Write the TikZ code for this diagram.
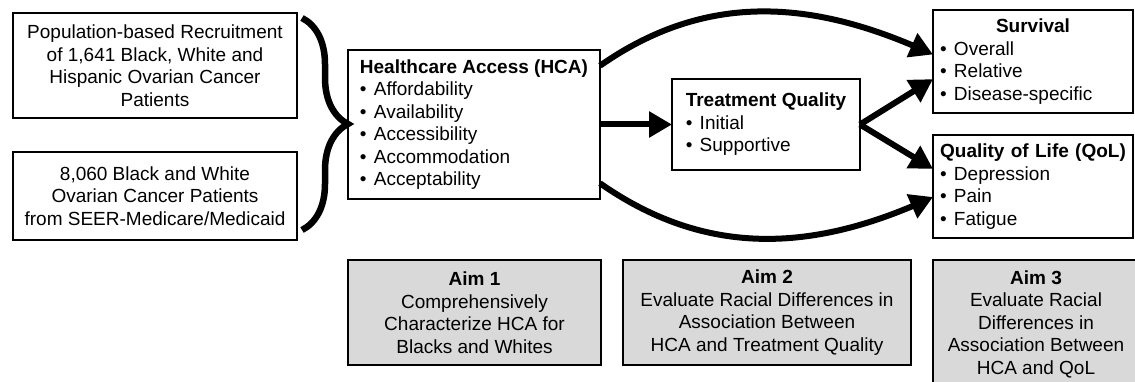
\documentclass[tikz,border=0pt]{standalone}
\usepackage{fontspec}
\setmainfont{Liberation Sans}
\usetikzlibrary{arrows.meta, bending, decorations.pathreplacing, positioning}
\newcommand\bul{\makebox[14pt][l]{•}}

\begin{document}
\begin{tikzpicture}[
x=1pt, y=1pt,
every node/.style = {font=\fontsize{19}{22.5}\selectfont},
   box/.style = {draw, line width=1.8pt, inner sep=0pt, outer sep=0pt,
                 align=center, anchor=north west},
  lbox/.style = {box, align=left},
  obox/.style = {box, align=left, inner xsep=7pt, text width=186pt},
   aim/.style = {box, fill=gray!30, line width=2.6pt, minimum height=105pt},
   arr/.style = {line width=6pt, -{Triangle[length=23pt,width=25pt]}},
   brc/.style = {line width=6.5pt, decorate,
                 decoration={brace, amplitude=46pt}}
                        ]
\useasboundingbox (0,0) rectangle (1135,-382);
\clip (0,0) rectangle (1135,-382);
    % cohorts
\node (pop)  [box, minimum width=284pt, minimum height=105pt] at (13,-13)
    {Population-based Recruitment\\ of 1,641 Black, White and\\
     Hispanic Ovarian Cancer\\ Patients};
\node (seer) [box, minimum width=284pt, minimum height=88pt] at (13,-152)
    {8,060 Black and White\\ Ovarian Cancer Patients\\
     from SEER-Medicare/Medicaid};
    % model
\node (hca)  [lbox, minimum width=252pt, minimum height=149pt] at (348,-50)
    {\textbf{Healthcare Access (HCA)}\\ \bul Affordability\\ \bul Availability\\
     \bul Accessibility\\ \bul Accommodation\\ \bul Acceptability};
\node (tq)   [lbox, minimum width=188pt, minimum height=91pt] at (672,-79)
    {\textbf{Treatment Quality}\\ \bul Initial\\ \bul Supportive};
\node (surv) [obox, minimum height=103pt] at (933,-10)
    {\makebox[186pt]{\textbf{Survival}}\\ \bul Overall\\ \bul Relative\\
     \bul Disease-specific};
\node (qol)  [obox, minimum height=103pt] at (933,-135)
    {\makebox[186pt]{\textbf{Quality of Life (QoL)}}\\ \bul Depression\\
     \bul Pain\\ \bul Fatigue};
    % aims
\node (aim1) [aim, minimum width=253pt] at (348,-260)
    {\textbf{Aim 1}\\ Comprehensively\\ Characterize HCA for\\
     Blacks and Whites};
\node (aim2) [aim, minimum width=288pt] at (623,-260)
    {\textbf{Aim 2}\\ Evaluate Racial Differences in\\
     Association Between\\ HCA and Treatment Quality};
\node (aim3) [aim, minimum width=206pt, minimum height=128pt] at (933,-260)
    {\textbf{Aim 3}\\ Evaluate Racial\\ Differences in\\
     Association Between\\ HCA and QoL};
    % brace and arrows
\draw[brc] (302,-18) -- (302,-230);
\draw[arr] (hca.east) -- (tq.west);
\draw[arr] (tq.east)  -- (surv.190);
\draw[arr] (tq.east)  -- (qol.170);
\draw[arr] (hca.25)  to[out=35,in=155]   (surv.176);
\draw[arr] (hca.-25) to[out=-35,in=-155] (qol.186);
\end{tikzpicture}
\end{document}
